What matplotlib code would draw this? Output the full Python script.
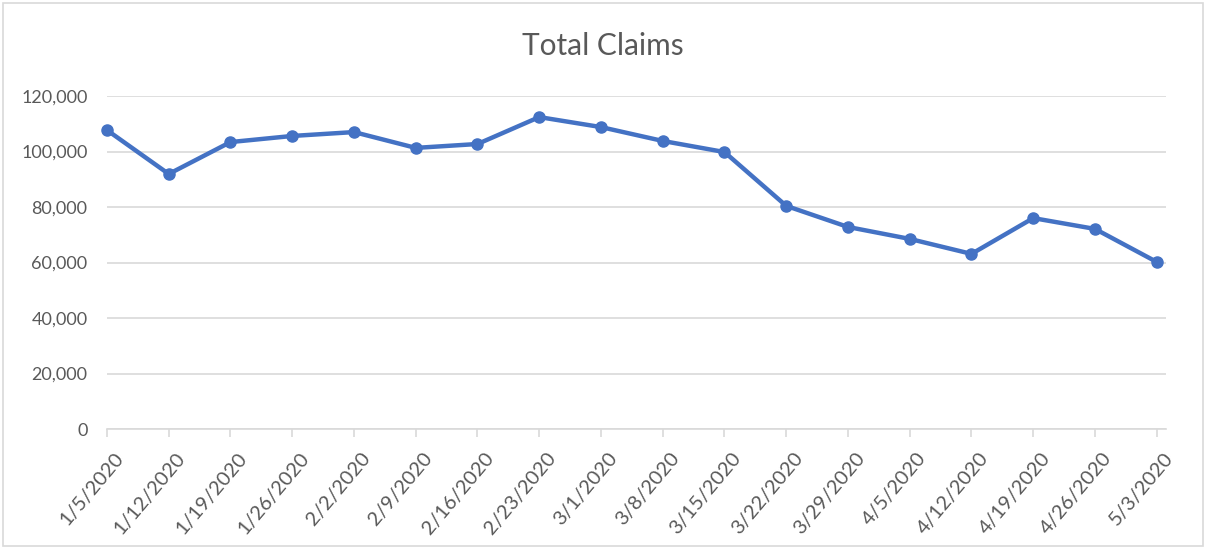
import matplotlib.pyplot as plt
from matplotlib.patches import Rectangle
from matplotlib.ticker import FuncFormatter
from matplotlib.transforms import ScaledTranslation

# Total claims por semana
semanas = ["1/5/2020", "1/12/2020", "1/19/2020", "1/26/2020", "2/2/2020", "2/9/2020",
           "2/16/2020", "2/23/2020", "3/1/2020", "3/8/2020", "3/15/2020", "3/22/2020",
           "3/29/2020", "4/5/2020", "4/12/2020", "4/19/2020", "4/26/2020", "5/3/2020"]
claims = [107700, 91900, 103400, 105600, 107000, 101300,
          102700, 112400, 108800, 103800, 99800, 80400,
          72800, 68500, 63100, 76000, 72100, 60200]
yticks = [0, 20000, 40000, 60000, 80000, 100000, 120000]

plt.rcParams['font.family'] = ['Lato', 'DejaVu Sans']
gris = "#595959"

fig = plt.figure(figsize=(12.06, 5.49), dpi=100)
ax = fig.add_axes([107/1206, 1 - 429/549, (1166 - 107)/1206, (429 - 96)/549])

x = list(range(len(semanas)))
ax.plot(x, claims, color="#4472C4", linewidth=3.2, marker="o", markersize=8,
        solid_capstyle="round", solid_joinstyle="round", zorder=3, clip_on=False)

ax.set_ylim(0, 120000)
ax.set_xlim(0, len(semanas) - 1 + 0.15)
ax.set_yticks(yticks)
ax.yaxis.set_major_formatter(FuncFormatter(lambda v, p: f"{int(v):,}"))
ax.grid(axis="y", color="#D9D9D9", linewidth=1.2, zorder=0)

ax.set_xticks(x)
ax.set_xticklabels(semanas, rotation=50, ha="right", rotation_mode="anchor")
ax.tick_params(axis="x", colors=gris, labelsize=14.5, length=6, width=1.2,
               color="#D9D9D9", pad=9)
ax.tick_params(axis="y", colors=gris, labelsize=13, length=0, pad=14)
# las etiquetas quedan un poco a la derecha de cada marca
desplaza = ScaledTranslation(0.07, 0, fig.dpi_scale_trans)
for lab in ax.get_xticklabels():
    lab.set_transform(lab.get_transform() + desplaza)

for s in ["top", "right", "left"]:
    ax.spines[s].set_visible(False)
ax.spines["bottom"].set_color("#D9D9D9")
ax.spines["bottom"].set_linewidth(1.2)

fig.text(603/1206, 1 - 46/549, "Total Claims", ha="center", va="center",
         fontsize=21.5, color=gris)

# borde exterior del grafico
fig.patches.append(Rectangle((3/1206, 3/549), 1200/1206, 543/549, transform=fig.transFigure,
                             fill=False, edgecolor="#D9D9D9", linewidth=1.2))

fig.savefig("out.png", dpi=100)
